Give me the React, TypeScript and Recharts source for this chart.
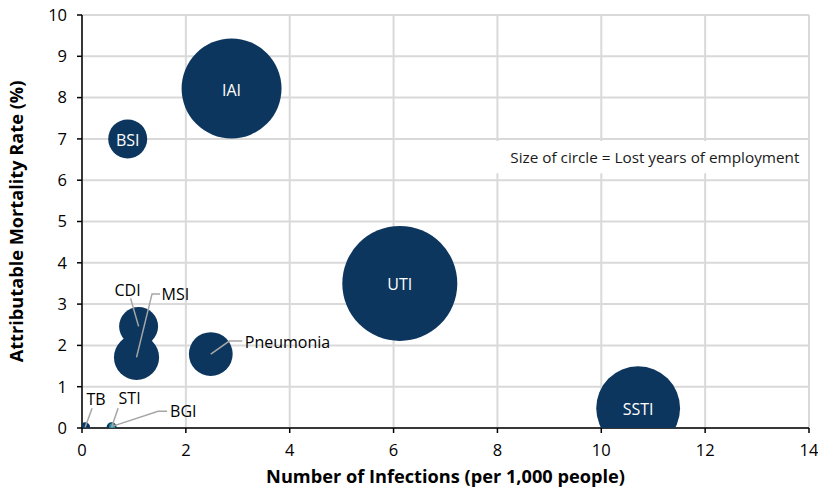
import React from 'react';
import { ScatterChart, Scatter, XAxis, YAxis, ZAxis, CartesianGrid, ReferenceArea, Label } from 'recharts';

const categories = ['IAI', 'BSI', 'UTI', 'SSTI', 'Pneumonia', 'MSI', 'CDI', 'TB', 'STI', 'BGI'];
const infections = [2.88, 0.88, 6.12, 10.71, 2.48, 1.05, 1.09, 0.06, 0.57, 0.58];
const mortality = [8.22, 7.0, 3.5, 0.48, 1.79, 1.71, 2.46, 0.02, 0.02, 0.04];
const lostYears = [250, 38, 331, 176, 48, 51, 38, 2.5, 2.5, 0.9];
const xTicks = [0, 2, 4, 6, 8, 10, 12, 14];
const yTicks = [0, 1, 2, 3, 4, 5, 6, 7, 8, 9, 10];

const data = categories.map((name, i) => ({ name, x: infections[i], y: mortality[i], z: lostYears[i] }));

const FONT = '"Open Sans", "Noto Sans", sans-serif';
const NAVY = '#0d365e';
const TEAL = '#2a8c9e';
const LEADER = '#a6a6a6';

const inside = new Set(['IAI', 'BSI', 'UTI', 'SSTI']);
const leaders: Record<string, { pts: number[][]; tx: number; ty: number; anchor: 'start' | 'middle' | 'end' }> = {
  CDI: { pts: [[0, 0], [-8, -28]], tx: -11, ty: -36, anchor: 'middle' },
  MSI: { pts: [[0, 0], [15.5, -63.5], [23.5, -63.5]], tx: 25, ty: -63, anchor: 'start' },
  Pneumonia: { pts: [[0, 0], [18.5, -13], [31.5, -13]], tx: 34, ty: -12, anchor: 'start' },
  TB: { pts: [[0, 0], [7, -19]], tx: 11, ty: -28, anchor: 'middle' },
  STI: { pts: [[0, 0], [6.5, -19]], tx: 18, ty: -29, anchor: 'middle' },
  BGI: { pts: [[0, 0], [46, -15], [55, -15]], tx: 58, ty: -15, anchor: 'start' },
};

const radiusOf = (p: any) => {
  if (typeof p.width === 'number' && p.width > 0) return p.width / 2;
  return Math.sqrt(Math.max(p.size || 0, 0) / Math.PI);
};

const Bubble = (p: any) => {
  const name = p.payload?.name;
  const r = radiusOf(p);
  return <circle cx={p.cx} cy={p.cy} r={r} fill={name === 'BGI' ? TEAL : NAVY} />;
};

const BubbleLabel = (p: any) => {
  const name = p.payload?.name;
  const { cx, cy } = p;
  if (inside.has(name)) {
    return (
      <text x={cx} y={cy + 1} textAnchor="middle" dominantBaseline="central" fill="#fff" fontSize={16} fontFamily={FONT}>
        {name}
      </text>
    );
  }
  const l = leaders[name];
  if (!l) return <g />;
  const pts = l.pts.map(([dx, dy]) => `${cx + dx},${cy + dy}`).join(' ');
  return (
    <g>
      <polyline points={pts} fill="none" stroke={LEADER} strokeWidth={1.5} />
      <text x={cx + l.tx} y={cy + l.ty} textAnchor={l.anchor} dominantBaseline="central" fill="#000" fontSize={16} fontFamily={FONT}>
        {name}
      </text>
    </g>
  );
};

export default function App() {
  return (
    <div style={{ position: 'absolute', left: 0, top: 0 }}>
      <ScatterChart width={818} height={491} margin={{ top: 15, right: 9, bottom: 0, left: 0 }} style={{ fontFamily: FONT }}>
        <CartesianGrid stroke="#d9d9d9" strokeWidth={2} />
        <XAxis
          type="number"
          dataKey="x"
          domain={[0, 14]}
          ticks={xTicks}
          height={63}
          tickSize={5}
          tickMargin={11}
          axisLine={{ stroke: '#000', strokeWidth: 1.5 }}
          tickLine={{ stroke: '#000', strokeWidth: 1.5 }}
          tick={{ fill: '#000', fontSize: 16.5, fontFamily: FONT }}
          allowDataOverflow
        >
          <Label
            value="Number of Infections (per 1,000 people)"
            position="insideBottom"
            offset={8}
            style={{ fontWeight: 700, fontSize: 18.2, fill: '#000', fontFamily: FONT }}
          />
        </XAxis>
        <YAxis
          type="number"
          dataKey="y"
          domain={[0, 10]}
          ticks={yTicks}
          width={82}
          tickSize={5}
          tickMargin={10}
          axisLine={{ stroke: '#000', strokeWidth: 1.5 }}
          tickLine={{ stroke: '#000', strokeWidth: 1.5 }}
          tick={{ fill: '#000', fontSize: 16.5, fontFamily: FONT }}
          allowDataOverflow
        >
          <Label
            value="Attributable Mortality Rate (%)"
            angle={-90}
            position="insideLeft"
            offset={17}
            style={{ textAnchor: 'middle', fontWeight: 700, fontSize: 18.2, fill: '#000', fontFamily: FONT }}
          />
        </YAxis>
        <ZAxis type="number" dataKey="z" domain={[0, 331]} range={[0, Math.PI * 57.5 * 57.5]} />
        <ReferenceArea x1={7.97} x2={13.95} y1={6.17} y2={6.95} fill="#fff" fillOpacity={1} stroke="none" ifOverflow="visible">
          <Label
            value="Size of circle = Lost years of employment"
            position="insideRight"
            offset={7}
            style={{ fontSize: 15.3, fill: '#1a1a1a', fontFamily: FONT }}
          />
        </ReferenceArea>
        <Scatter data={data} shape={Bubble} isAnimationActive={false} />
        <Scatter data={data} shape={BubbleLabel} isAnimationActive={false} />
      </ScatterChart>
    </div>
  );
}
